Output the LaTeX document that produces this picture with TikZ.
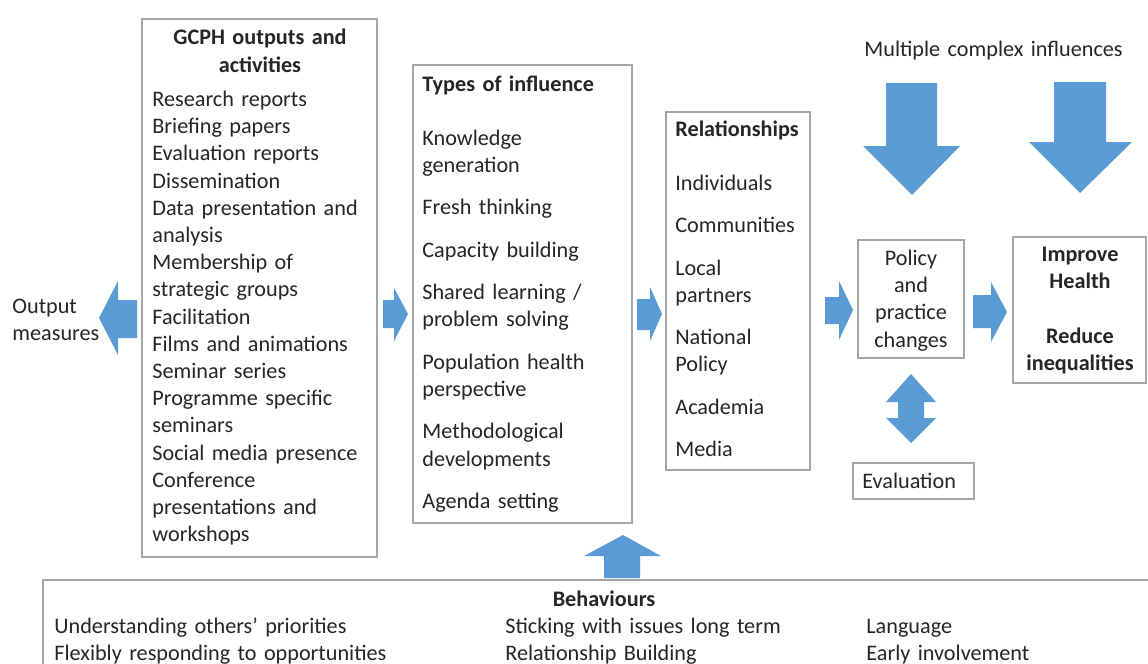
\documentclass[tikz,border=0pt]{standalone}
\usepackage{fontspec}
\setmainfont{Carlito}
\usetikzlibrary{fit}
\definecolor{arrowblue}{HTML}{5B9BD5}
\definecolor{boxgray}{HTML}{A6A6A6}
\definecolor{txt}{HTML}{262626}
\tikzset{
  box/.style={draw=boxgray, line width=0.75pt, inner sep=0pt, fill=white},
  txtnode/.style={inner sep=0pt, text=txt, font=\fontsize{11.1}{13.6}\selectfont},
  lefttext/.style={txtnode, anchor=base west, align=left, text width=#1},
  centertext/.style={txtnode, anchor=base, align=center, text width=#1},
  blockarrow/.style={fill=arrowblue, draw=none},
}
\begin{document}
\begin{tikzpicture}[x=0.5pt,y=-0.5pt]
\useasboundingbox (0,0) rectangle (1148,664);
\fill[white] (0,0) rectangle (1148,664);

% boxes
\node[box, fit={(142,19) (377,557)}] (gcph) {};
\node[box, fit={(413,65) (632,523)}] (types) {};
\node[box, fit={(666,112) (810,470)}] (rel) {};
\node[box, fit={(858,240) (964,358)}] (policy) {};
\node[box, fit={(1013,237) (1146,383)}] (improve) {};
\node[box, fit={(853,463) (974,499)}] (evalbox) {};
\node[box, fit={(43,580) (1160,680)}] (behav) {};

% GCPH text
\node[centertext=110pt, font=\fontsize{11.1}{13.6}\selectfont\bfseries] (gcphhead) at (260,45) {GCPH outputs and\\activities};
\node[lefttext=110pt] (gcphlist) at (152,106.5) {Research reports\\Briefing papers\\Evaluation reports\\Dissemination\\Data presentation and\\analysis\\Membership of\\strategic groups\\Facilitation\\Films and animations\\Seminar series\\Programme specific\\seminars\\Social media presence\\Conference\\presentations and\\workshops};

% Types of influence
\node[lefttext=104pt] (typestext) at (422,91) {\textbf{Types of influence}\\[13.6pt]Knowledge\\generation\\[7.6pt]Fresh thinking\\[7.6pt]Capacity building\\[7.6pt]Shared learning /\\problem solving\\[7.6pt]Population health\\perspective\\[7.6pt]Methodological\\developments\\[7.6pt]Agenda setting};

% Relationships
\node[lefttext=66pt] (reltext) at (675,136) {\textbf{Relationships}\\[13.6pt]Individuals\\[7.6pt]Communities\\[7.6pt]Local\\partners\\[7.6pt]National\\Policy\\[7.6pt]Academia\\[7.6pt]Media};

% Policy / Improve / Evaluation
\node[centertext=50pt] (policytext) at (911,265.5) {Policy\\and\\practice\\changes};
\node[centertext=64pt, font=\fontsize{11.1}{13.6}\selectfont\bfseries] (improvetext) at (1080,261.5) {Improve\\Health\\[13.6pt]Reduce\\inequalities};
\node[lefttext=60pt] (evaltext) at (862,488.5) {Evaluation};

% Other labels
\node[lefttext=140pt] (multi) at (864,56) {Multiple complex influences};
\node[lefttext=50pt] (output) at (12,313) {Output\\measures};

% Behaviours
\node[centertext=100pt, font=\fontsize{11.1}{13.6}\selectfont\bfseries] (behavhead) at (604,606.5) {Behaviours};
\node[lefttext=200pt] (bcol1) at (54,633.5) {Understanding others’ priorities\\Flexibly responding to opportunities};
\node[lefttext=200pt] (bcol2) at (505,633.5) {Sticking with issues long term\\Relationship Building};
\node[lefttext=120pt] (bcol3) at (866,633.5) {Language\\Early involvement};

% Block arrows
% output measures (left)
\fill[blockarrow] (137,300) -- (118,300) -- (118,281) -- (99,318) -- (118,355) -- (118,338) -- (137,338) -- cycle;
% gcph -> types
\fill[blockarrow] (383,300) -- (394,300) -- (394,288) -- (408,314) -- (394,341) -- (394,328) -- (383,328) -- cycle;
% types -> rel
\fill[blockarrow] (637,299) -- (650,299) -- (650,287) -- (662,314) -- (650,341) -- (650,330) -- (637,330) -- cycle;
% rel -> policy
\fill[blockarrow] (825,297) -- (839,297) -- (839,281) -- (853,310) -- (839,340) -- (839,324) -- (825,324) -- cycle;
% policy -> improve
\fill[blockarrow] (973,295) -- (991,295) -- (991,282) -- (1007,312) -- (991,342) -- (991,328) -- (973,328) -- cycle;
% down arrows
\fill[blockarrow] (886,83) -- (937,83) -- (937,146) -- (960,146) -- (912,195) -- (863,146) -- (886,146) -- cycle;
\fill[blockarrow] (1054,82) -- (1106,82) -- (1106,142) -- (1132,142) -- (1080,193) -- (1029,142) -- (1054,142) -- cycle;
% double arrow
\fill[blockarrow] (911,374) -- (936,402) -- (924,402) -- (924,418) -- (936,418) -- (911,443) -- (886,418) -- (898,418) -- (898,402) -- (886,402) -- cycle;
% up arrow
\fill[blockarrow] (604,578) -- (604,556) -- (584,556) -- (623,535) -- (661,556) -- (640,556) -- (640,578) -- cycle;
\end{tikzpicture}
\end{document}
